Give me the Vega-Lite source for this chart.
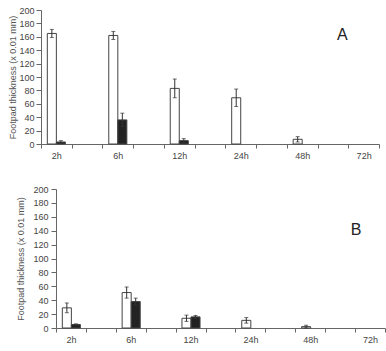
{
  "$schema": "https://vega.github.io/schema/vega-lite/v6.json",
  "padding": {"left": 8, "top": 6, "right": 0, "bottom": 0},
  "spacing": 25,
  "config": {
    "view": {"stroke": null},
    "font": "Liberation Sans",
    "axis": {
      "domainColor": "#666",
      "tickColor": "#666",
      "labelColor": "#444",
      "titleColor": "#555",
      "labelFontSize": 9,
      "titleFontSize": 9,
      "titleFontWeight": "normal",
      "grid": false
    }
  },
  "datasets": {
    "A": [
      {"time": "2h", "group": "ctrl", "mean": 165, "lo": 159, "hi": 171},
      {"time": "2h", "group": "trt", "mean": 3, "lo": 1, "hi": 5},
      {"time": "6h", "group": "ctrl", "mean": 162, "lo": 156, "hi": 168},
      {"time": "6h", "group": "trt", "mean": 36, "lo": 26, "hi": 46},
      {"time": "12h", "group": "ctrl", "mean": 83, "lo": 69, "hi": 97},
      {"time": "12h", "group": "trt", "mean": 5, "lo": 2, "hi": 8},
      {"time": "24h", "group": "ctrl", "mean": 69, "lo": 56, "hi": 82},
      {"time": "48h", "group": "ctrl", "mean": 7, "lo": 3, "hi": 11}
    ],
    "B": [
      {"time": "2h", "group": "ctrl", "mean": 29, "lo": 22, "hi": 36},
      {"time": "2h", "group": "trt", "mean": 5, "lo": 4, "hi": 6},
      {"time": "6h", "group": "ctrl", "mean": 51, "lo": 43, "hi": 59},
      {"time": "6h", "group": "trt", "mean": 38, "lo": 33, "hi": 43},
      {"time": "12h", "group": "ctrl", "mean": 14, "lo": 9.5, "hi": 18.5},
      {"time": "12h", "group": "trt", "mean": 16, "lo": 14, "hi": 18},
      {"time": "24h", "group": "ctrl", "mean": 11, "lo": 7, "hi": 15},
      {"time": "48h", "group": "ctrl", "mean": 2, "lo": 0, "hi": 4}
    ],
    "labelA": [{"label": "A"}],
    "labelB": [{"label": "B"}]
  },
  "vconcat": [
    {
      "width": 338,
      "height": 134,
      "encoding": {
        "x": {
          "field": "time", "type": "nominal",
          "scale": {"domain": ["2h", "g1", "6h", "g2", "12h", "g3", "24h", "g4", "48h", "g5", "72h"], "paddingInner": 0, "paddingOuter": 0},
          "axis": {"title": null, "labelAngle": 0, "tickBand": "extent", "tickSize": 4, "labelPadding": 3, "labelExpr": "indexof(datum.label, 'g') == 0 ? '' : datum.label"}
        },
        "y": {"type": "quantitative", "scale": {"domain": [0, 200]},
              "axis": {"title": "Footpad thickness (x 0.01 mm)", "values": [0,20,40,60,80,100,120,140,160,180,200], "labelOverlap": false, "tickSize": 5, "labelPadding": 2, "titlePadding": 1}}
      },
      "layer": [
        {
          "data": {"name": "A"},
          "mark": {"type": "bar", "stroke": "#444", "strokeWidth": 1},
          "encoding": {
            "xOffset": {"field": "group", "scale": {"domain": ["ctrl", "trt"], "paddingInner": 0, "paddingOuter": 0.7}},
            "y": {"field": "mean"},
            "fill": {"field": "group", "scale": {"domain": ["ctrl", "trt"], "range": ["#ffffff", "#222222"]}, "legend": null}
          }
        },
        {
          "data": {"name": "A"},
          "mark": {"type": "rule", "color": "#333", "strokeWidth": 1},
          "encoding": {
            "xOffset": {"field": "group", "scale": {"domain": ["ctrl", "trt"], "paddingInner": 0, "paddingOuter": 0.7}},
            "y": {"field": "lo"},
            "y2": {"field": "hi"}
          }
        },
        {
          "data": {"name": "A"},
          "mark": {"type": "tick", "color": "#333", "size": 4, "thickness": 1},
          "encoding": {
            "xOffset": {"field": "group", "scale": {"domain": ["ctrl", "trt"], "paddingInner": 0, "paddingOuter": 0.7}},
            "y": {"field": "hi"}
          }
        },
        {
          "data": {"name": "A"},
          "mark": {"type": "tick", "color": "#333", "size": 4, "thickness": 1},
          "encoding": {
            "xOffset": {"field": "group", "scale": {"domain": ["ctrl", "trt"], "paddingInner": 0, "paddingOuter": 0.7}},
            "y": {"field": "lo"}
          }
        },
        {
          "data": {"name": "labelA"},
          "mark": {"type": "text", "fontSize": 16, "color": "#222", "align": "center", "baseline": "middle", "dx": -6},
          "encoding": {
            "x": {"datum": "72h", "bandPosition": 0},
            "y": {"datum": 162},
            "text": {"field": "label"}
          }
        }
      ]
    },
    {
      "width": 344,
      "height": 139,
      "encoding": {
        "x": {
          "field": "time", "type": "nominal",
          "scale": {"domain": ["2h", "g1", "6h", "g2", "12h", "g3", "24h", "g4", "48h", "g5", "72h"], "paddingInner": 0, "paddingOuter": 0, "rangeMin": 15},
          "axis": {"title": null, "labelAngle": 0, "tickBand": "extent", "tickSize": 4, "labelPadding": 3, "labelExpr": "indexof(datum.label, 'g') == 0 ? '' : datum.label"}
        },
        "y": {"type": "quantitative", "scale": {"domain": [0, 200]},
              "axis": {"title": "Footpad thickness (x 0.01 mm)", "values": [0,20,40,60,80,100,120,140,160,180,200], "labelOverlap": false, "tickSize": 5, "labelPadding": 3, "offset": -15, "titlePadding": 7}}
      },
      "layer": [
        {
          "data": {"name": "B"},
          "mark": {"type": "bar", "stroke": "#444", "strokeWidth": 1},
          "encoding": {
            "xOffset": {"field": "group", "scale": {"domain": ["ctrl", "trt"], "paddingInner": 0, "paddingOuter": 0.7}},
            "y": {"field": "mean"},
            "fill": {"field": "group", "scale": {"domain": ["ctrl", "trt"], "range": ["#ffffff", "#222222"]}, "legend": null}
          }
        },
        {
          "data": {"name": "B"},
          "mark": {"type": "rule", "color": "#333", "strokeWidth": 1},
          "encoding": {
            "xOffset": {"field": "group", "scale": {"domain": ["ctrl", "trt"], "paddingInner": 0, "paddingOuter": 0.7}},
            "y": {"field": "lo"},
            "y2": {"field": "hi"}
          }
        },
        {
          "data": {"name": "B"},
          "mark": {"type": "tick", "color": "#333", "size": 4, "thickness": 1},
          "encoding": {
            "xOffset": {"field": "group", "scale": {"domain": ["ctrl", "trt"], "paddingInner": 0, "paddingOuter": 0.7}},
            "y": {"field": "hi"}
          }
        },
        {
          "data": {"name": "B"},
          "mark": {"type": "tick", "color": "#333", "size": 4, "thickness": 1},
          "encoding": {
            "xOffset": {"field": "group", "scale": {"domain": ["ctrl", "trt"], "paddingInner": 0, "paddingOuter": 0.7}},
            "y": {"field": "lo"}
          }
        },
        {
          "data": {"name": "labelB"},
          "mark": {"type": "text", "fontSize": 16, "color": "#222", "align": "center", "baseline": "middle", "dx": 1},
          "encoding": {
            "x": {"datum": "72h", "bandPosition": 0},
            "y": {"datum": 141},
            "text": {"field": "label"}
          }
        }
      ]
    }
  ]
}
